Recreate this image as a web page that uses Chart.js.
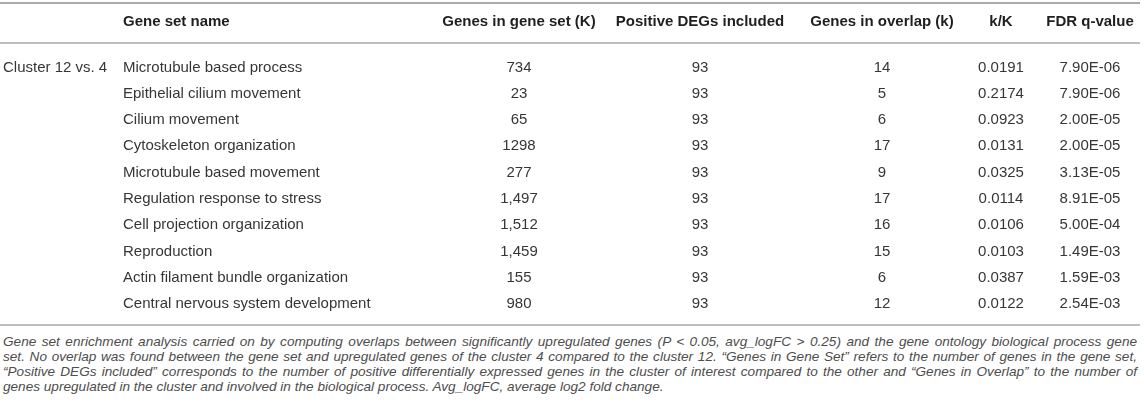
<!DOCTYPE html>
<html>
<head>
<meta charset="utf-8">
<script src="https://cdn.jsdelivr.net/npm/chart.js@4.4.1/dist/chart.umd.min.js"></script>
<style>
  html, body { margin: 0; padding: 0; background: #fff; }
  #wrap { position: relative; width: 1144px; height: 332px; }
  #caption {
    width: 1134px;
    margin: 2px 0 0 3px;
    font-family: "Liberation Sans", Arial, sans-serif;
    font-style: italic;
    font-size: 13.6px;
    line-height: 15px;
    color: #4d4d4d;
  }
  #caption div { text-align: justify; text-align-last: justify; }
  #caption div.last { text-align-last: left; }
</style>
</head>
<body>
<div id="wrap"><canvas id="table"></canvas></div>
<div id="caption">
  <div>Gene set enrichment analysis carried on by computing overlaps between significantly upregulated genes (P &lt; 0.05, avg_logFC &gt; 0.25) and the gene ontology biological process gene</div>
  <div>set. No overlap was found between the gene set and upregulated genes of the cluster 4 compared to the cluster 12. “Genes in Gene Set” refers to the number of genes in the gene set,</div>
  <div>“Positive DEGs included” corresponds to the number of positive differentially expressed genes in the cluster of interest compared to the other and “Genes in Overlap” to the number of</div>
  <div class="last">genes upregulated in the cluster and involved in the biological process. Avg_logFC, average log2 fold change.</div>
</div>
<script>
//Table contents
const comparison = "Cluster 12 vs. 4";
const headers = ["", "Gene set name", "Genes in gene set (K)", "Positive DEGs included", "Genes in overlap (k)", "k/K", "FDR q-value"];
const geneSets = [
  "Microtubule based process",
  "Epithelial cilium movement",
  "Cilium movement",
  "Cytoskeleton organization",
  "Microtubule based movement",
  "Regulation response to stress",
  "Cell projection organization",
  "Reproduction",
  "Actin filament bundle organization",
  "Central nervous system development",
];
const genesInSet = ["734", "23", "65", "1298", "277", "1,497", "1,512", "1,459", "155", "980"];
const positiveDEGs = [93, 93, 93, 93, 93, 93, 93, 93, 93, 93];
const genesInOverlap = [14, 5, 6, 17, 9, 17, 16, 15, 6, 12];
const kOverK = [0.0191, 0.2174, 0.0923, 0.0131, 0.0325, 0.0114, 0.0106, 0.0103, 0.0387, 0.0122];
const fdrQ = [7.90e-6, 7.90e-6, 2.00e-5, 2.00e-5, 3.13e-5, 8.91e-5, 5.00e-4, 1.49e-3, 1.59e-3, 2.54e-3];

//Column anchors on the x scale (left edge for text columns, centre for numbers)
const colX = [3, 123, 519, 700, 882, 1001, 1090];
const colAlign = ["left", "left", "center", "center", "center", "center", "center"];

const FONT = '"Liberation Sans", Arial, sans-serif';

//7.90e-6 -> 7.90E-06
const sci = (v) => {
  const [m, e] = v.toExponential(2).split("e");
  const n = Math.abs(parseInt(e, 10));
  return m + "E" + (e[0] === "-" ? "-" : "+") + String(n).padStart(2, "0");
};

const cellText = (c, r) => {
  switch (c) {
    case 0: return r === 0 ? comparison : "";
    case 1: return geneSets[r];
    case 2: return genesInSet[r];
    case 3: return String(positiveDEGs[r]);
    case 4: return String(genesInOverlap[r]);
    case 5: return kOverK[r].toFixed(4);
    case 6: return sci(fdrQ[r]);
  }
};

//Plugin that writes the table text and rules using the chart scales
const tablePlugin = {
  id: "tableText",
  afterDraw(chart) {
    const { ctx, scales: { x, y } } = chart;
    const firstRow = y.getPixelForValue(0);
    const lastRow = y.getPixelForValue(geneSets.length - 1);
    const left = x.getPixelForValue(0);
    const right = x.getPixelForValue(1140);

    ctx.save();
    //rules
    ctx.strokeStyle = "#a9a9a9";
    const rule = (py, w) => {
      ctx.lineWidth = w;
      ctx.beginPath();
      ctx.moveTo(left, py);
      ctx.lineTo(right, py);
      ctx.stroke();
    };
    rule(firstRow - 64.5, 2);
    rule(firstRow - 24.5, 1.5);
    rule(lastRow + 21, 1.5);

    //header
    ctx.textBaseline = "middle";
    ctx.fillStyle = "#1f1f1f";
    ctx.font = "bold 15px " + FONT;
    headers.forEach((h, c) => {
      ctx.textAlign = colAlign[c];
      ctx.fillText(h, x.getPixelForValue(colX[c]), firstRow - 45.5);
    });

    //body
    ctx.fillStyle = "#363636";
    ctx.font = "15px " + FONT;
    geneSets.forEach((_, r) => {
      const py = y.getPixelForValue(r);
      headers.forEach((__, c) => {
        ctx.textAlign = colAlign[c];
        ctx.fillText(cellText(c, r), x.getPixelForValue(colX[c]), py);
      });
    });
    ctx.restore();
  },
};

let myChart = new Chart(document.getElementById("table"), {
  type: "scatter",
  plugins: [tablePlugin],
  data: { labels: geneSets, datasets: [] },
  options: {
    responsive: true,
    maintainAspectRatio: false,
    animation: false,
    layout: { padding: { top: 67.5, bottom: 28, left: 0, right: 0 } },
    plugins: { legend: { display: false }, tooltip: { enabled: false } },
    scales: {
      x: { type: "linear", min: 0, max: 1144, display: false },
      y: { type: "category", labels: geneSets, offset: false, display: false },
    },
  },
});

//shrink the caption a little if a line would wrap
const cap = document.getElementById("caption");
let capSize = 13.6;
const wraps = () => [...cap.children].some((d) => d.getBoundingClientRect().height > 16);
while (wraps() && capSize > 11) {
  capSize -= 0.1;
  cap.style.fontSize = capSize + "px";
}
</script>
</body>
</html>
